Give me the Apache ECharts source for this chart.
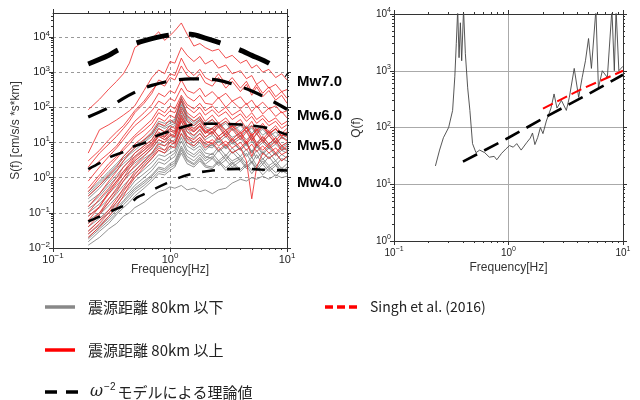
<!DOCTYPE html>
<html><head><meta charset="utf-8">
<script src="https://cdn.jsdelivr.net/npm/echarts@6/dist/echarts.min.js"></script>
<style>html,body{margin:0;padding:0;background:#fff}#c{width:640px;height:400px}</style>
</head><body><div id="c"></div>
<script>
// ---------- data ----------
const FREQ = [0.2,0.25,0.3,0.35,0.4,0.45,0.5,0.6,0.7,0.8,0.9,1.0,1.1,1.25,1.4,1.6,1.8,2.0,2.3,2.6,3.0,3.4,4.0,4.5,5.0,5.5,6.2,7.0,8.0,9.0,10];

// red: hypocentral distance >= 80 km
const RED_1  = [85,170,330,550,900,1800,5000,7500,9000,14000,8000,11000,15000,25000,12000,5500,6500,5000,4000,4500,2500,3000,1800,2200,1300,1600,1000,1200,700,900,600];
const RED_2  = [5,23,32,44,60,80,110,300,700,1150,900,2000,1800,5000,3000,2000,2800,1700,2200,1300,1600,900,1100,650,800,450,600,350,450,280,320];
const RED_3  = [3,6,12,20,30,50,80,150,300,500,400,700,600,1500,800,600,900,500,400,700,350,550,280,450,220,380,200,300,160,220,130];
const RED_4  = [1.5,3,5,8,15,25,40,70,120,250,200,300,250,600,300,250,350,200,280,180,250,150,200,120,160,100,140,90,110,70,80];
const RED_5  = [0.3,0.6,1.2,2,4,6,9,15,25,50,40,60,50,150,70,50,70,40,60,35,50,30,45,25,40,22,35,20,30,18,25];
const RED_6  = [0.1,0.25,0.5,1,2,3,5,8,12,25,20,30,25,80,40,30,45,25,20,35,18,30,15,27,14,24,12,20,11,18,14];
const RED_7  = [0.05,0.1,0.25,0.5,1,1.8,3,5,8,15,12,18,15,50,25,20,30,18,25,15,22,12,20,10,18,9,15,9,14,8,10];
const RED_8  = [0.03,0.06,0.12,0.25,0.5,0.9,1.5,3,5,9,8,12,10,30,15,12,18,11,9,15,8,13,7,11,4,9,6,9,5,8,6];
const RED_9  = [0.02,0.04,0.08,0.15,0.3,0.6,1,2,3.5,6,5,8,7,18,10,8,12,7,10,6,9,5,7,3,0.25,2,5,3.5,5,3,4];
const RED_10 = [0.08,0.15,0.4,0.8,1.5,2.5,4,7,10,20,15,25,20,60,30,25,35,20,17,28,14,24,12,20,11,18,10,16,9,14,11];
const RED_11 = [0.15,0.35,0.8,1.5,3,5,7,12,18,35,30,45,35,100,55,40,55,30,45,28,40,25,35,20,30,18,28,16,25,15,20];
const RED_12 = [0.8,2,4,7,12,20,30,50,80,150,120,180,150,350,200,150,220,130,120,190,100,150,90,130,75,110,65,95,55,75,50];
const RED_13 = [0.5,1.2,2.5,4,7,11,16,28,45,90,70,110,90,220,120,90,130,80,110,70,100,60,85,50,70,45,60,38,50,32,40];
const RED_14 = [2,5,9,15,25,40,70,130,250,600,500,900,800,2500,1200,800,1200,700,550,900,450,700,350,550,280,450,250,380,200,280,180];
const RED_15 = [0.04,0.09,0.2,0.4,0.8,1.4,2.2,4,7,12,10,16,14,40,20,16,24,14,20,12,18,10,16,9,14,8,12,7,11,6,8];
const RED_16 = [0.06,0.15,0.35,0.7,1.3,2.2,3.5,6,9,16,14,22,18,45,28,22,30,20,26,35,22,30,18,26,16,22,30,18,24,15,18];
const RED_17 = [0.4,1,2,3.5,6,9,14,22,35,70,55,80,70,180,100,70,100,60,85,55,75,45,65,40,55,35,48,30,40,25,32];
const RED_18 = [0.025,0.05,0.1,0.2,0.4,0.7,1.2,2.5,4,7,6,10,9,25,13,10,14,9,12,8,11,7,10,6,9,5.5,8,5,7,4.5,5.5];

// gray: hypocentral distance <= 80 km
const GRAY_1  = [0.4,0.8,1.5,2.5,4,6,8,12,20,40,35,40,45,200,60,40,50,35,45,30,40,28,35,25,30,20,28,18,25,15,20];
const GRAY_2  = [0.25,0.5,1,1.6,2.5,3.5,5,8,12,25,20,25,30,120,40,25,35,22,18,30,16,26,14,22,12,18,11,16,10,14,12];
const GRAY_3  = [0.15,0.3,0.6,1,1.5,2.2,3,5,8,15,12,15,18,70,25,15,22,14,20,12,18,11,15,9,14,8,12,8,11,7,9];
const GRAY_4  = [0.1,0.18,0.35,0.6,1,1.5,2,3.5,5,10,8,10,12,40,15,10,14,9,8,13,7,12,6,10,5.5,9,5,8,4.5,7,6];
const GRAY_5  = [0.06,0.1,0.2,0.35,0.6,0.9,1.3,2.2,3.5,6,5,6.5,8,25,10,7,10,6,9,5.5,8,5,7,4,6,3.5,5.5,3.5,5,3,4];
const GRAY_6  = [0.04,0.07,0.12,0.2,0.35,0.5,0.8,1.3,2,3.5,3,4,5,14,6,4.5,6.5,4,3.5,6,3.2,5.5,3,5,2.6,4.5,2.4,4,2.2,3.5,3];
const GRAY_7  = [0.025,0.045,0.08,0.14,0.22,0.35,0.5,0.8,1.2,2,1.8,2.5,3,8,4,3,4.5,3,4,2.5,4,2.5,3.5,2,3,1.8,3,1.8,2.5,1.5,2];
const GRAY_8  = [0.015,0.03,0.05,0.09,0.14,0.2,0.3,0.5,0.8,1.3,1.2,1.6,2,5,2.5,2,3,2,1.8,2.8,1.6,2.5,1.5,2.2,1.3,2,1.2,1.8,1.1,1.6,1.3];
const GRAY_9  = [0.012,0.02,0.035,0.05,0.08,0.1,0.14,0.2,0.3,0.4,0.45,0.55,0.5,0.6,0.45,0.5,0.4,0.45,0.35,0.45,0.5,0.7,0.9,0.8,1,0.9,1.1,0.9,1.2,1,1.1];
const GRAY_10 = [0.2,0.35,0.7,1.2,2,3,4,6,10,18,14,20,22,90,30,20,28,18,25,15,22,14,18,12,16,10,14,9,13,8,10];
const GRAY_11 = [0.08,0.14,0.25,0.45,0.8,1.2,1.6,2.8,4.5,8,6,8,10,30,12,8,12,8,7,11,6.5,10,6,9,5,8,4.5,7,4.2,6,5];
const GRAY_12 = [0.03,0.06,0.1,0.17,0.28,0.4,0.6,1,1.6,2.8,2.4,3.2,4,11,5,3.8,5.5,3.5,5,3,4.5,3,4,2.5,3.8,2.2,3.5,2.2,3,1.8,2.5];
const GRAY_13 = [0.3,0.6,1.1,1.8,3,4.5,6,10,15,30,25,30,35,150,45,30,40,28,24,38,22,34,20,30,18,26,16,22,14,20,16];
const GRAY_14 = [0.02,0.04,0.07,0.12,0.2,0.3,0.45,0.7,1.1,1.8,1.6,2.2,2.6,7,3.3,2.5,3.8,2.4,3.5,2.2,3.2,2,3,1.8,2.7,1.6,2.4,1.5,2.2,1.4,1.8];
const GRAY_15 = [0.05,0.09,0.16,0.28,0.45,0.7,1,1.7,2.7,4.5,4,5,6,18,8,6,8,5,4.5,7.5,4.2,7,4,6.5,3.6,6,3.3,5.2,3,4.6,3.6];
const GRAY_16 = [0.13,0.22,0.45,0.8,1.3,1.9,2.6,4.2,6.5,12,10,13,15,55,20,13,18,12,16,10,15,9,13,8,11,7,10,6.5,9,6,7];
const GRAY_17 = [0.018,0.035,0.06,0.1,0.17,0.25,0.38,0.6,0.95,1.5,1.4,1.9,2.3,6,3,2.3,3.4,2.2,2,3,1.9,2.8,1.7,2.5,1.6,2.3,1.5,2.1,1.4,1.9,1.5];
const GRAY_18 = [0.35,0.7,1.3,2.2,3.5,5,7,11,17,35,28,35,40,170,50,35,45,30,38,26,35,22,30,20,26,17,24,15,20,13,16];

// omega^-2 model (theoretical) curves
const MW7_F = [0.2,0.3,0.36,0.5,0.7,1,1.5,2,2.7,3.8,5,7,10];
const MW7_S = [1700,3000,4300,6500,9000,11400,12000,9300,6700,4500,3000,1800,830];
const MW6_F = [0.2,0.3,0.4,0.55,0.7,1,1.5,2,2.5,3.5,5,7,10];
const MW6_S = [53,98,180,310,420,560,645,640,600,450,290,170,88];
const MW5_F = [0.2,0.25,0.31,0.4,0.48,0.64,0.74,1.0,1.47,2,2.7,4.6,6.7,10];
const MW5_S = [1.75,2.6,3.9,5.4,7.5,10.5,14.5,21,31,34,34,31,26,16.6];
const MW4_F = [0.2,0.25,0.33,0.47,0.52,0.67,0.74,0.94,1.3,1.7,2.3,3.1,4.6,5.9,10];
const MW4_S = [0.057,0.078,0.12,0.2,0.27,0.4,0.48,0.7,1.1,1.38,1.6,1.75,1.78,1.7,1.6];
const MW_LABELS = ['Mw7.0','Mw6.0','Mw5.0','Mw4.0'];

// Q(f)
const Q_F = [0.23,0.25,0.27,0.3,0.325,0.34,0.35,0.36,0.37,0.38,0.39,0.405,0.42,0.44,0.46,0.485,0.52,0.56,0.62,0.68,0.75,0.79,0.87,0.95,1.02,1.1,1.18,1.29,1.45,1.55,1.62,1.7,1.8,1.9,2.0,2.14,2.35,2.5,2.65,2.9,3.2,3.4,3.75,3.9,4.1,4.4,4.7,5.0,5.3,5.8,6.1,6.6,7.3,8.0,8.4,8.7,9.2,9.6,10];
const Q_V = [21,40,66,100,200,800,3000,12000,1700,7000,1500,12000,2000,500,200,52,36,40,36,30,31,27,35,42,48,45,52,40,55,65,80,50,67,100,78,130,220,390,220,300,200,340,1100,1050,340,760,1500,3700,1100,12000,500,1000,760,12000,1000,12000,1000,1100,1200];
const QFIT_F = [0.4,1,2.2,5,10];
const QFIT_V = [25,66,160,390,850];
const SINGH_F = [2,4.3,10];
const SINGH_V = [215,470,1000];

// ticks
const X_MAJOR = [0.1,1,10];
const X_MINOR = [0.2,0.3,0.4,0.5,0.6,0.7,0.8,0.9,2,3,4,5,6,7,8,9];
const Y1_MAJOR = [0.01,0.1,1,10,100,1000,10000];
const Y1_MINOR = [0.02,0.03,0.04,0.05,0.06,0.07,0.08,0.09,0.2,0.3,0.4,0.5,0.6,0.7,0.8,0.9,2,3,4,5,6,7,8,9,20,30,40,50,60,70,80,90,200,300,400,500,600,700,800,900,2000,3000,4000,5000,6000,7000,8000,9000,20000,30000,40000];
const Y2_MAJOR = [1,10,100,1000,10000];
const Y2_MINOR = [2,3,4,5,6,7,8,9,20,30,40,50,60,70,80,90,200,300,400,500,600,700,800,900,2000,3000,4000,5000,6000,7000,8000,9000];

// ---------- build ----------
const REDS = [RED_1,RED_2,RED_14,RED_3,RED_4,RED_12,RED_13,RED_17,RED_5,RED_11,RED_16,RED_6,RED_10,RED_15,RED_7,RED_8,RED_18,RED_9];
const GRAYS = [GRAY_1,GRAY_18,GRAY_13,GRAY_2,GRAY_10,GRAY_3,GRAY_16,GRAY_4,GRAY_11,GRAY_5,GRAY_15,GRAY_6,GRAY_12,GRAY_7,GRAY_14,GRAY_17,GRAY_8,GRAY_9];
const pairs = (xs, ys) => xs.map((x, i) => [x, ys[i]]);

function supFmt(v) {
  const e = Math.round(Math.log10(v));
  return '{b|10}{s|' + (e < 0 ? '\u2212' + (-e) : e) + '}';
}
function richLab(fs) {
  return {
    b: {fontSize: fs, fontFamily: 'Liberation Sans', color: '#222'},
    s: {fontSize: fs - 3, fontFamily: 'Liberation Sans', color: '#222', padding: [0, 0, 7, 0]}
  };
}
const AXC = '#333';
function axesFor(gi, dim, min, max, major, minor, opts) {
  const res = [];
  const sides = dim === 'x' ? ['bottom', 'top'] : ['left', 'right'];
  sides.forEach((pos, si) => {
    res.push({
      type: 'log', logBase: 10, gridIndex: gi, position: pos, min: min, max: max,
      axisLine: {show: true, onZero: false, lineStyle: {color: AXC, width: 1}},
      axisTick: {show: true, customValues: major, length: 4, inside: false, lineStyle: {color: AXC}},
      axisLabel: si === 0 ? {show: true, customValues: major, formatter: supFmt, rich: richLab(opts.fs), margin: opts.margin} : {show: false},
      splitLine: si === 0 ? {show: true, lineStyle: opts.split} : {show: false},
      minorTick: {show: false}, minorSplitLine: {show: false},
      name: si === 0 ? opts.name : '', nameLocation: 'middle', nameGap: opts.nameGap, nameMoveOverlap: false,
      nameTextStyle: {fontSize: 12, fontFamily: 'Liberation Sans', color: '#333'}
    });
    res.push({
      type: 'log', logBase: 10, gridIndex: gi, position: pos, min: min, max: max,
      axisLine: {show: false, onZero: false},
      axisTick: {show: true, customValues: minor, length: 2, inside: false, lineStyle: {color: AXC}},
      axisLabel: {show: false}, splitLine: {show: false}
    });
  });
  return res;
}

const xAxes = [
  ...axesFor(0, 'x', 0.1, 10, X_MAJOR, X_MINOR, {fs: 11, margin: 4, name: 'Frequency[Hz]', nameGap: 16, split: {color: '#999', type: [3, 3], width: 1}}),
  ...axesFor(1, 'x', 0.1, 10, X_MAJOR, X_MINOR, {fs: 10, margin: 5, name: 'Frequency[Hz]', nameGap: 21, split: {color: '#aaa', width: 1}})
];
const yAxes = [
  ...axesFor(0, 'y', 0.01, 48000, Y1_MAJOR, Y1_MINOR, {fs: 11, margin: 3, name: 'S(f) [cm/s/s *s*km]', nameGap: 31, split: {color: '#999', type: [3, 3], width: 1}}),
  ...axesFor(1, 'y', 1, 10000, Y2_MAJOR, Y2_MINOR, {fs: 10, margin: 3, name: 'Q(f)', nameGap: 31, split: {color: '#aaa', width: 1}})
];

const series = [];
const n = Math.max(REDS.length, GRAYS.length);
for (let i = 0; i < n; i++) {
  if (REDS[i]) series.push({type: 'line', xAxisIndex: 0, yAxisIndex: 0, data: pairs(FREQ, REDS[i]), showSymbol: false, silent: true,
    lineStyle: {color: '#ee2222', width: 0.8}, z: 2});
  if (GRAYS[i]) series.push({type: 'line', xAxisIndex: 0, yAxisIndex: 0, data: pairs(FREQ, GRAYS[i]), showSymbol: false, silent: true,
    lineStyle: {color: '#777777', width: 0.8}, z: 2});
}
const models = [[MW7_F, MW7_S, 5, [33, 20]], [MW6_F, MW6_S, 3.2, [20, 13]], [MW5_F, MW5_S, 2.6, [14, 11]], [MW4_F, MW4_S, 2.6, [13, 12]]];
models.forEach(m => series.push({type: 'line', xAxisIndex: 0, yAxisIndex: 0, data: pairs(m[0], m[1]), showSymbol: false, smooth: 0.3,
  lineStyle: {color: '#000', width: m[2], type: m[3], cap: 'butt'}, z: 5}));

// right panel (xAxis index 4 = grid1 bottom major, yAxis index 4 = grid1 left major)
series.push({type: 'line', xAxisIndex: 4, yAxisIndex: 4, data: pairs(Q_F, Q_V), showSymbol: false, clip: true,
  lineStyle: {color: '#444', width: 0.9}, z: 3});
series.push({type: 'line', xAxisIndex: 4, yAxisIndex: 4, data: pairs(QFIT_F, QFIT_V), showSymbol: false,
  lineStyle: {color: '#000', width: 2.6, type: [16, 8], cap: 'butt'}, z: 5});
series.push({type: 'line', xAxisIndex: 4, yAxisIndex: 4, data: pairs(SINGH_F, SINGH_V), showSymbol: false,
  lineStyle: {color: '#ff0000', width: 2, type: [11, 5], cap: 'butt'}, z: 6});

const lg = 'Noto Sans CJK JP';
const mwY = [82, 116, 146, 183];
const graphic = [];
MW_LABELS.forEach((t, i) => graphic.push({type: 'text', x: 297, y: mwY[i],
  style: {text: t, font: 'bold 15px "Liberation Sans"', fill: '#000', verticalAlign: 'middle'}}));
// legend swatches
graphic.push({type: 'line', shape: {x1: 45, y1: 307, x2: 75, y2: 307}, style: {stroke: '#888', lineWidth: 3.5}});
graphic.push({type: 'text', x: 88, y: 307, style: {text: '震源距離 80km 以下', font: '15px "' + lg + '"', fill: '#222', verticalAlign: 'middle'}});
graphic.push({type: 'line', shape: {x1: 45, y1: 350, x2: 75, y2: 350}, style: {stroke: '#ff0000', lineWidth: 3.5}});
graphic.push({type: 'text', x: 88, y: 350, style: {text: '震源距離 80km 以上', font: '15px "' + lg + '"', fill: '#222', verticalAlign: 'middle'}});
graphic.push({type: 'line', shape: {x1: 45, y1: 392, x2: 78, y2: 392}, style: {stroke: '#000', lineWidth: 3.5, lineDash: [12, 9]}});
graphic.push({type: 'text', x: 90, y: 392, style: {
  text: '{w|ω}{s|\u22122}{t|モデルによる理論値}', verticalAlign: 'middle',
  rich: {w: {fontSize: 16, fontStyle: 'italic', fontFamily: 'DejaVu Serif', fill: '#222'},
         s: {fontSize: 10, fontFamily: 'Liberation Sans', fill: '#222', padding: [0, 2, 9, 1]},
         t: {fontSize: 15, fontFamily: lg, fill: '#222'}}}});
graphic.push({type: 'line', shape: {x1: 325, y1: 307, x2: 357, y2: 307}, style: {stroke: '#ff0000', lineWidth: 3.5, lineDash: [8, 4]}});
graphic.push({type: 'text', x: 370, y: 307, style: {text: 'Singh et al. (2016)', font: '14px "' + lg + '"', fill: '#222', verticalAlign: 'middle'}});

const chart = echarts.init(document.getElementById('c'), null, {renderer: 'canvas'});
chart.setOption({
  animation: false,
  backgroundColor: '#fff',
  grid: [
    {left: 53, top: 13, width: 234, height: 235, outerBoundsMode: 'none', containLabel: false},
    {left: 394, top: 14, width: 229, height: 227, outerBoundsMode: 'none', containLabel: false}
  ],
  xAxis: xAxes,
  yAxis: yAxes,
  series: series,
  graphic: graphic
});
</script></body></html>
